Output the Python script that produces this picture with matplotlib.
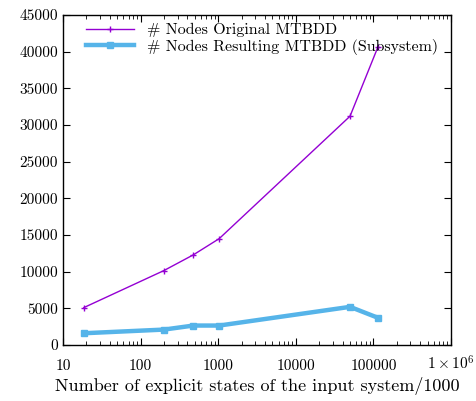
import numpy as np
import matplotlib
matplotlib.use('Agg')
import matplotlib.pyplot as plt
from matplotlib.ticker import FixedLocator, LogLocator, NullFormatter

plt.rcParams['font.family'] = 'serif'
plt.rcParams['font.serif'] = ['cmr10', 'DejaVu Serif']
plt.rcParams['mathtext.fontset'] = 'cm'
plt.rcParams['axes.unicode_minus'] = False

# data
states = [18.6, 200, 480, 1030, 50000, 115000]
nodes_original = [5100, 10150, 12300, 14500, 31200, 40700]
nodes_subsystem = [1600, 2100, 2650, 2650, 5200, 3700]

x_ticks = [10, 100, 1000, 10000, 100000, 1000000]
x_tick_labels = ['10', '100', '1000', '10000', '100000', r'$1\times10^6$']
y_ticks = list(range(0, 45001, 5000))

fig = plt.figure(figsize=(4.77, 4.01), dpi=100)
ax = fig.add_axes([0.132, 0.1397, 0.8135, 0.8229])

ax.plot(states, nodes_original, color='#9400d3', lw=1, marker='+', ms=5,
        mew=1, label='# Nodes Original MTBDD')
ax.plot(states, nodes_subsystem, color='#56b4e9', lw=3.2, marker='s', ms=5,
        label='# Nodes Resulting MTBDD (Subsystem)')

ax.set_xscale('log')
ax.set_xlim(10, 1e6)
ax.set_ylim(0, 45000)
ax.xaxis.set_major_locator(FixedLocator(x_ticks))
ax.set_xticklabels(x_tick_labels, va='baseline')
ax.xaxis.set_minor_locator(LogLocator(base=10, subs=np.arange(2, 10)))
ax.xaxis.set_minor_formatter(NullFormatter())
ax.set_yticks(y_ticks)
ax.set_yticklabels([str(v) for v in y_ticks])

ax.tick_params(which='both', direction='in', top=True, right=True, labelsize=11)
ax.tick_params(which='major', length=5)
ax.tick_params(which='minor', length=3)
ax.tick_params(axis='x', pad=18)
for s in ax.spines.values():
    s.set_linewidth(1)

ax.set_xlabel('Number of explicit states of the input system/1000', fontsize=13,
              labelpad=3)

ax.legend(loc='upper left', frameon=False, fontsize=11.5, handlelength=3.0,
          borderaxespad=0.1, labelspacing=0.1, bbox_to_anchor=(0.04, 1.0))

fig.savefig('out.png', dpi=100)
